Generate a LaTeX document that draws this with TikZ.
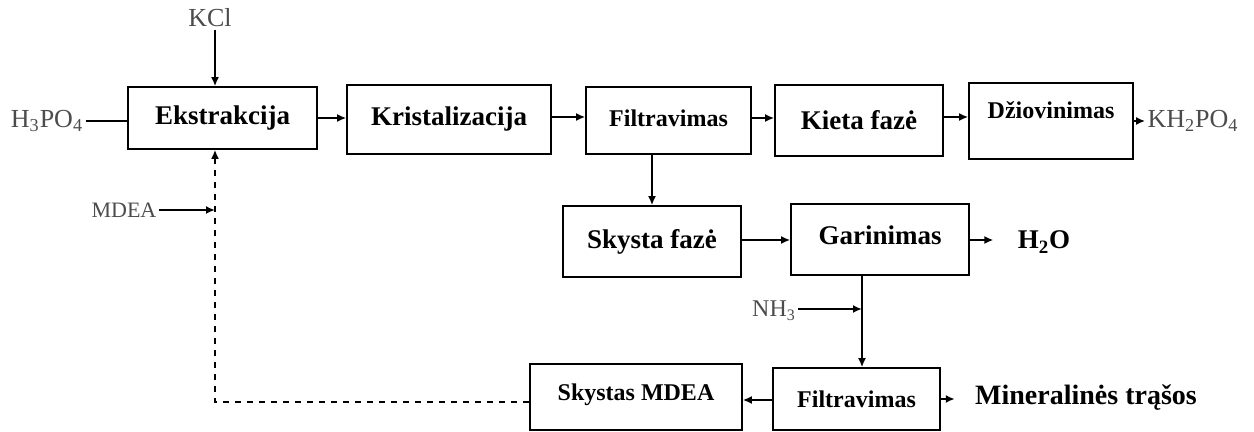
\documentclass[tikz,border=0pt]{standalone}
\usepackage{fontspec}
\setmainfont{Liberation Serif}
\usetikzlibrary{arrows.meta}

\begin{document}
\begin{tikzpicture}[x=0.5pt, y=-0.5pt, bx/.style={draw, line width=0.8pt, inner sep=0pt, font=\bfseries\fontsize{13.5}{16}\selectfont}, sm/.style={font=\bfseries\fontsize{12}{14}\selectfont}, lbl/.style={text=black!70, inner sep=1pt, font=\fontsize{13}{15}\selectfont}, prod/.style={inner sep=1pt, font=\bfseries\fontsize{13.5}{16}\selectfont}, arr/.style={line width=0.9pt, -{Latex[length=4.5pt, width=4pt]}}, ln/.style={line width=0.9pt}]
\useasboundingbox (0,0) rectangle (1254,432);
% top row
\node[bx, minimum width=94.5pt, minimum height=31pt] (ekst) at (222.5,118) {Ekstrakcija};
\node[bx, minimum width=102pt, minimum height=34.5pt] (krist) at (449,119.5) {Kristalizacija};
\node[bx, sm, minimum width=82.5pt, minimum height=33.5pt, text depth=2pt] (filt1) at (668.5,120.5) {Filtravimas};
\node[bx, minimum width=84pt, minimum height=35.5pt] (kieta) at (859,120.5) {Kieta fazė};
\node[bx, sm, minimum width=82pt, minimum height=38pt, text depth=11pt] (dziov) at (1051,121) {Džiovinimas};
% middle row
\node[bx, minimum width=89pt, minimum height=35.5pt] (skysta) at (652,241.5) {Skysta fazė};
\node[bx, minimum width=89pt, minimum height=35.5pt, text depth=4pt] (garin) at (880,239.5) {Garinimas};
% bottom row
\node[bx, sm, minimum width=83.5pt, minimum height=31pt] (filt2) at (856.5,399) {Filtravimas};
\node[bx, sm, minimum width=106pt, minimum height=33pt, text depth=5pt] (mdea) at (636,397) {Skystas MDEA};
% inputs and products
\node[lbl] (kcl) at (210,18) {KCl};
\node[lbl] (h3po4) at (47,121) {H\textsubscript{3}PO\textsubscript{4}};
\node[lbl, font=\fontsize{11}{13}\selectfont] (mlbl) at (124,210) {MDEA};
\node[lbl, font=\fontsize{12}{14}\selectfont] (nh3) at (774,311) {NH\textsubscript{3}};
\node[lbl] (kh) at (1193,121) {KH\textsubscript{2}PO\textsubscript{4}};
\node[prod] (h2o) at (1044,242) {H\textsubscript{2}O};
\node[prod, font=\bfseries\fontsize{14}{16}\selectfont] (mineral) at (1086,398) {Mineralinės trąšos};
\coordinate (r) at (215,210);
\coordinate (j) at (862,309);
% flows
\draw[arr] (kcl.south -| r) -- (r |- ekst.north);
\draw[ln] (h3po4.east) -- (h3po4.east -| ekst.west);
\draw[arr] (ekst.east) -- (ekst.east -| krist.west);
\draw[arr] (krist.east |- 0,117) -- (filt1.west |- 0,117);
\draw[arr] (filt1.east |- 0,118) -- (kieta.west |- 0,118);
\draw[arr] (kieta.east |- 0,117) -- (dziov.west |- 0,117);
\draw[arr] (dziov.east) -- (kh.west);
\draw[arr] (filt1.south -| skysta.north) -- (skysta.north);
\draw[arr] (skysta.east |- 0,240) -- (garin.west |- 0,240);
\draw[arr, shorten >=11pt] (garin.east |- 0,240) -- (h2o.west |- 0,240);
\draw[arr] (garin.south -| j) -- (j) -- (j |- filt2.north);
\draw[arr] (nh3.east |- j) -- (j);
\draw[arr] (filt2.west |- 0,400) -- (mdea.east |- 0,400);
\draw[arr, shorten >=9pt] (filt2.east |- 0,399) -- (mineral.west |- 0,399);
\draw[arr, dashed] (mdea.west |- 0,402) -| (r) -- (r |- ekst.south);
\draw[arr] (mlbl.east |- r) -- (r);
\end{tikzpicture}
\end{document}
